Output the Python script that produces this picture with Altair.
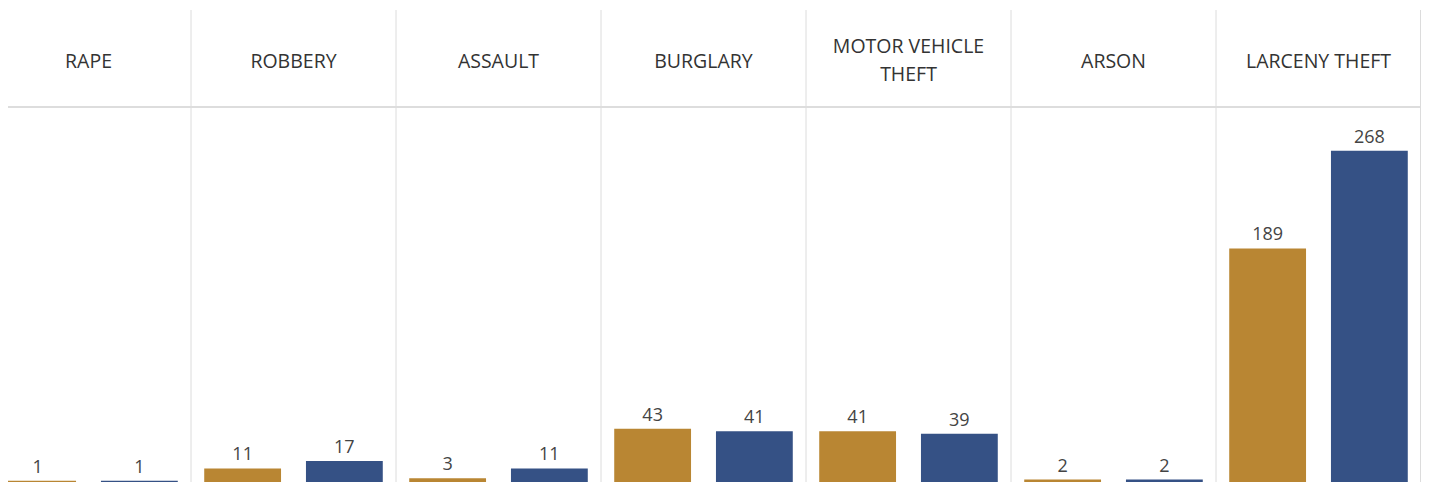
import altair as alt
import pandas as pd

categories = ["RAPE", "ROBBERY", "ASSAULT", "BURGLARY", "MOTOR VEHICLE\nTHEFT", "ARSON", "LARCENY THEFT"]
series = ["Period A", "Period B"]
values_a = [1, 11, 3, 43, 41, 2, 189]
values_b = [1, 17, 11, 41, 39, 2, 268]
colors = ["#B98633", "#355185"]

rows = []
for c, a, b in zip(categories, values_a, values_b):
    rows.append({"category": c, "series": series[0], "value": a})
    rows.append({"category": c, "series": series[1], "value": b})
df = pd.DataFrame(rows)
hdr = pd.DataFrame({"category": categories})

W = 1413
H = 472
FONT = "Open Sans"
GRID = "#dcdcdc"

xscale = alt.Scale(domain=categories, range=[-22, W], paddingInner=0, paddingOuter=0)
oscale = alt.Scale(domain=series, paddingInner=0.245, paddingOuter=0.13)
yscale = alt.Scale(domain=[0, 382], nice=False, zero=True)
cscale = alt.Scale(domain=series, range=colors)

base = alt.Chart(df)

bars = base.mark_bar().encode(
    x=alt.X("category:N", scale=xscale, sort=categories,
            axis=alt.Axis(title=None, labels=False, ticks=False, domain=True,
                          domainColor=GRID, grid=False)),
    xOffset=alt.XOffset("series:N", scale=oscale, sort=series),
    y=alt.Y("value:Q", scale=yscale, axis=None),
    color=alt.Color("series:N", scale=cscale, legend=None),
)

labels = base.mark_text(baseline="alphabetic", dy=-8, fontSize=18, font=FONT, color="#444444").encode(
    x=alt.X("category:N", scale=xscale, sort=categories, axis=None),
    xOffset=alt.XOffset("series:N", scale=oscale, sort=series),
    y=alt.Y("value:Q", scale=yscale, axis=None),
    text=alt.Text("value:Q"),
)

hdr_base = alt.Chart(hdr)
headers_one = hdr_base.transform_filter(
    "indexof(datum.category, '\\n') < 0"
).mark_text(
    baseline="middle", align="center", fontSize=19.5, font=FONT, color="#333333",
).encode(
    x=alt.X("category:N", scale=xscale, sort=categories, axis=None),
    y=alt.value(52),
    text="category:N",
)
headers_two = hdr_base.transform_filter(
    "indexof(datum.category, '\\n') >= 0"
).mark_text(
    baseline="middle", align="center", fontSize=19.5, font=FONT, color="#333333",
    lineBreak="\n", lineHeight=28
).encode(
    x=alt.X("category:N", scale=xscale, sort=categories, axis=None),
    y=alt.value(37),
    text="category:N",
)

vlines = hdr_base.mark_rule(color=GRID, strokeWidth=1).encode(
    x=alt.X("category:N", scale=xscale, sort=categories, axis=None, bandPosition=0),
    y=alt.value(0), y2=alt.value(H),
)
hline = hdr_base.mark_rule(color=GRID, strokeWidth=1.5).encode(
    x=alt.value(-3), x2=alt.value(W), y=alt.value(97)
)
rline = hdr_base.mark_rule(color=GRID, strokeWidth=1).encode(
    x=alt.value(W - 0.5), y=alt.value(0), y2=alt.value(H)
)

chart = alt.layer(vlines, hline, rline, bars, labels, headers_one, headers_two).properties(
    width=W, height=H,
    padding={"left": 0, "top": 2, "right": 0, "bottom": 1},
    autosize=alt.AutoSizeParams(type="none"),
).configure_view(stroke=None)

chart.save("out.html", embed_options={"renderer": "svg", "actions": False})
